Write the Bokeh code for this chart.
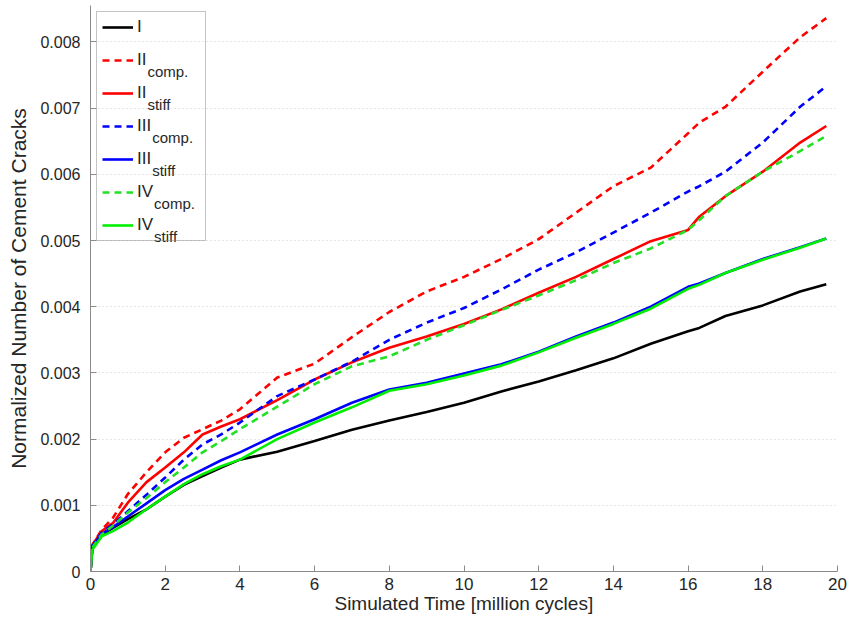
from bokeh.plotting import figure
from bokeh.models import (Range1d, FixedTicker, PrintfTickFormatter, Legend,
                          LegendItem, Label)
from bokeh.embed import file_html
from bokeh.resources import INLINE
import numpy as np

# ---------------- data ----------------
time_mcycles = [0, 0.05, 0.3, 0.6, 1, 1.5, 2, 2.5, 3, 3.5, 4, 5, 6, 7, 8, 9, 10,
                11, 12, 13, 14, 15, 16, 16.3, 17, 18, 19, 19.7]

# normalized number of cement cracks, in units of 1e-3
series_I = [0, 0.35, 0.55, 0.66, 0.79, 0.94, 1.13, 1.31, 1.44, 1.57, 1.69, 1.81,
            1.97, 2.14, 2.28, 2.41, 2.55, 2.72, 2.87, 3.04, 3.22, 3.44, 3.63, 3.68,
            3.86, 4.02, 4.23, 4.34]
series_II_comp = [0, 0.40, 0.63, 0.81, 1.17, 1.50, 1.80, 2.02, 2.15, 2.28, 2.45,
                  2.93, 3.14, 3.54, 3.92, 4.23, 4.45, 4.72, 5.02, 5.42, 5.82, 6.10,
                  6.62, 6.78, 7.02, 7.55, 8.07, 8.36]
series_II_stiff = [0, 0.40, 0.61, 0.73, 1.04, 1.35, 1.57, 1.80, 2.07, 2.19, 2.30,
                   2.59, 2.90, 3.16, 3.38, 3.55, 3.74, 3.96, 4.21, 4.45, 4.72, 4.99,
                   5.16, 5.36, 5.67, 6.04, 6.48, 6.73]
series_III_comp = [0, 0.38, 0.59, 0.71, 0.91, 1.16, 1.42, 1.69, 1.92, 2.07, 2.25,
                   2.65, 2.90, 3.17, 3.50, 3.76, 3.98, 4.26, 4.56, 4.82, 5.12, 5.42,
                   5.74, 5.82, 6.04, 6.48, 7.02, 7.33]
series_III_stiff = [0, 0.38, 0.57, 0.67, 0.83, 1.03, 1.23, 1.40, 1.54, 1.68, 1.80,
                    2.07, 2.30, 2.55, 2.75, 2.85, 2.99, 3.13, 3.32, 3.55, 3.76, 4.00,
                    4.30, 4.35, 4.51, 4.72, 4.90, 5.03]
series_IV_comp = [0, 0.36, 0.56, 0.69, 0.89, 1.11, 1.35, 1.57, 1.80, 1.97, 2.15,
                  2.49, 2.83, 3.10, 3.25, 3.50, 3.72, 3.95, 4.17, 4.40, 4.66, 4.88,
                  5.16, 5.31, 5.67, 6.04, 6.35, 6.58]
series_IV_stiff = [0, 0.33, 0.53, 0.61, 0.74, 0.94, 1.13, 1.32, 1.47, 1.59, 1.69,
                   2.00, 2.25, 2.48, 2.73, 2.83, 2.96, 3.11, 3.31, 3.53, 3.74, 3.97,
                   4.27, 4.33, 4.51, 4.71, 4.89, 5.03]

legend_main = ["I", "II", "II", "III", "III", "IV", "IV"]
legend_sub = ["", "comp.", "stiff", "comp.", "stiff", "comp.", "stiff"]

x_ticks = [0, 2, 4, 6, 8, 10, 12, 14, 16, 18, 20]
y_ticks = [0, 0.001, 0.002, 0.003, 0.004, 0.005, 0.006, 0.007, 0.008]
y_tick_labels = ["0", "0.001", "0.002", "0.003", "0.004", "0.005", "0.006",
                 "0.007", "0.008"]
x_title = "Simulated Time [million cycles]"
y_title = "Normalized Number of Cement Cracks"

# ---------------- styling ----------------
FONT = "Liberation Sans"
FRAME_W = 747
FRAME_H = 566
TEXT_COLOR = "#262626"
AXIS_COLOR = "#8a8a8a"
series = [
    (series_I, "#000000", "solid"),
    (series_II_comp, "#ff0000", "7 5"),
    (series_II_stiff, "#ff0000", "solid"),
    (series_III_comp, "#0000ff", "7 5"),
    (series_III_stiff, "#0000ff", "solid"),
    (series_IV_comp, "#22e022", "7 5"),
    (series_IV_stiff, "#00ee00", "solid"),
]

p = figure(frame_width=FRAME_W, frame_height=FRAME_H, output_backend="svg",
           toolbar_location=None,
           x_range=Range1d(0, 20), y_range=Range1d(0, 0.00855),
           min_border_left=90, min_border_right=12, min_border_top=5,
           min_border_bottom=40)
p.outline_line_color = None
p.background_fill_color = "white"
p.border_fill_color = "white"

renderers = []
x = np.array(time_mcycles)
for vals, color, dash in series:
    r = p.line(x, np.array(vals) * 1e-3, line_color=color, line_width=2.6,
               line_dash=dash)
    renderers.append(r)

# axes
for ax in (p.xaxis[0], p.yaxis[0]):
    ax.axis_line_color = AXIS_COLOR
    ax.major_tick_line_color = AXIS_COLOR
    ax.major_tick_in = 6
    ax.major_tick_out = 0
    ax.minor_tick_line_color = None
    ax.major_label_text_font = FONT
    ax.major_label_text_color = TEXT_COLOR
    ax.axis_label_text_font = FONT
    ax.axis_label_text_font_style = "normal"
    ax.axis_label_text_color = TEXT_COLOR

p.xaxis.ticker = FixedTicker(ticks=x_ticks)
p.xaxis.major_label_text_font_size = "17px"
p.xaxis.major_label_standoff = 6
p.xaxis.axis_label = x_title
p.xaxis.axis_label_text_font_size = "19px"
p.xaxis.axis_label_standoff = 0

p.yaxis.ticker = FixedTicker(ticks=y_ticks)
p.yaxis.formatter = PrintfTickFormatter(format="%.3f")
p.yaxis.major_label_overrides = dict(zip(y_ticks, y_tick_labels))
p.yaxis.major_label_text_font_size = "16px"
p.yaxis.major_label_standoff = 10
p.yaxis.axis_label = y_title
p.yaxis.axis_label_text_font_size = "21px"
p.yaxis.axis_label_standoff = 7

p.xgrid.grid_line_color = None
p.ygrid.grid_line_color = "#cfcfcf"
p.ygrid.grid_line_dash = "1 3"
p.ygrid.grid_line_width = 1

# legend (transparent fill so the subscript texts stay visible)
items = [LegendItem(label=lab, renderers=[r]) for lab, r in zip(legend_main, renderers)]
legend = Legend(items=items, location="top_left", margin=6, padding=5,
                spacing=13, label_height=20, glyph_height=20, glyph_width=31,
                label_width=63, label_standoff=4,
                label_text_font=FONT, label_text_font_size="17px",
                label_text_color=TEXT_COLOR,
                border_line_color=AXIS_COLOR, border_line_width=1,
                background_fill_alpha=0)
p.add_layout(legend)

# subscripts of the legend labels
main_w = {"I": 4.7, "II": 9.4, "III": 14.2, "IV": 16.1}
label_start = 6 + 5 + 31 + 4          # from the frame's left edge
for i, (m, s) in enumerate(zip(legend_main, legend_sub)):
    if not s:
        continue
    center_from_top = 6 + 5 + 10 + i * 33
    p.add_layout(Label(x=label_start + main_w[m] + 1.5,
                       y=FRAME_H - (center_from_top + 12),
                       x_units="screen", y_units="screen", text=s,
                       text_font=FONT, text_font_size="15px",
                       text_color=TEXT_COLOR, text_baseline="alphabetic"))

open("out.html", "w").write(file_html(p, INLINE))
